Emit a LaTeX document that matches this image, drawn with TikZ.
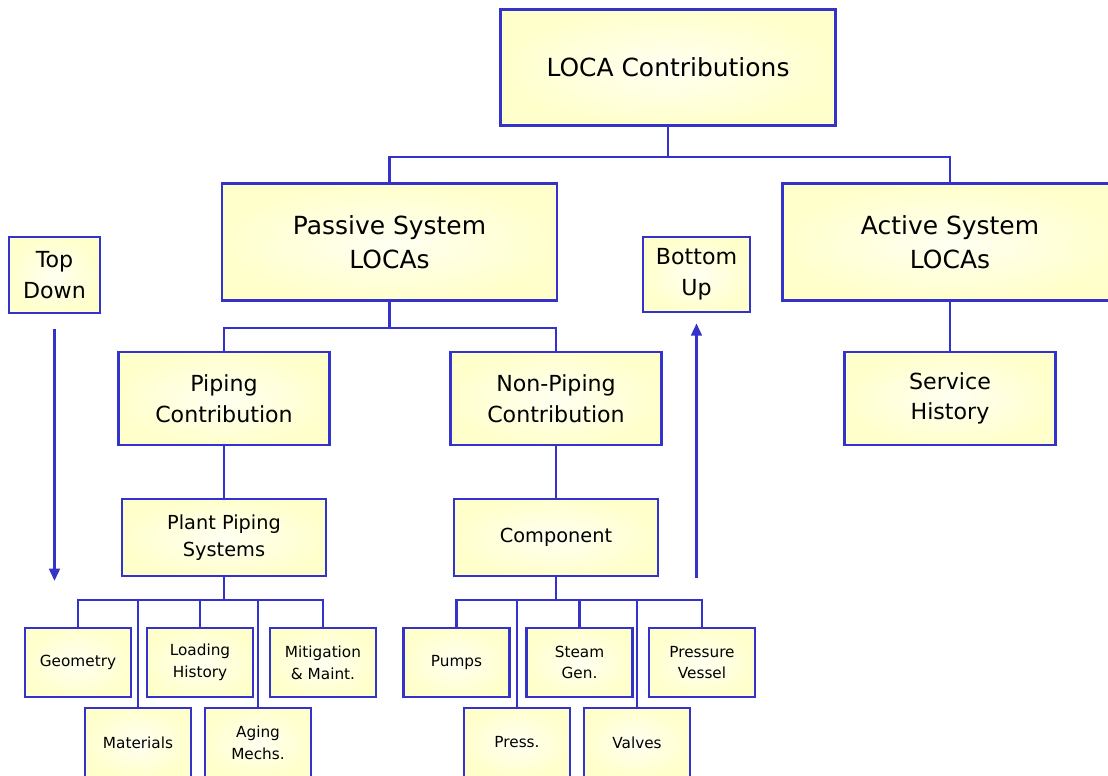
\documentclass[tikz,border=0pt]{standalone}
\usepackage{fontspec}
\setmainfont{DejaVu Sans}
\usepackage{xcolor}
\usetikzlibrary{arrows.meta}

\definecolor{locablue}{RGB}{51,51,204}
\definecolor{locayellow}{RGB}{255,255,204}

\tikzset{
  box/.style={draw=locablue, line width=1.5pt, rectangle, align=center,
    inner color=white!75!locayellow, outer color=locayellow},
  bigbox/.style={box, minimum width=6.7cm, minimum height=2.33cm,
    font=\fontsize{14.2}{19.5}\selectfont},
  midbox/.style={box, minimum width=4.22cm, minimum height=1.86cm,
    font=\fontsize{12.6}{17.5}\selectfont},
  plantbox/.style={box, minimum width=4.08cm, minimum height=1.54cm,
    font=\fontsize{11}{15.5}\selectfont},
  leafbox/.style={box, minimum width=2.12cm, minimum height=1.38cm,
    font=\fontsize{8.7}{12.4}\selectfont},
  link/.style={draw=locablue, line width=1.6pt},
}

\begin{document}
\begin{tikzpicture}[x=0.02cm, y=-0.02cm, >={Triangle[length=7pt,width=6pt]}]
			\useasboundingbox (0,0) rectangle (1108,776);
			% top levels
			\node[bigbox] (loca) at (668,67.5){LOCA Contributions};
			\node[bigbox] (passive) at (389.5,242){Passive System\\LOCAs};
			\node[bigbox] (active) at (950,242){Active System\\LOCAs};
			\node[midbox] (piping) at (224,398.5){Piping\\Contribution};
			\node[midbox] (nonpiping) at (556,398.5){Non-Piping\\Contribution};
			\node[midbox] (service) at (950,398.5){Service\\History};
			\node[plantbox] (plant) at (224,537.5){Plant Piping\\Systems};
			\node[plantbox] (component) at (556,537.5){Component};
			% direction labels
			\node[midbox, minimum width=1.82cm, minimum height=1.52cm] (topdown) at (54.5,275){Top\\Down};
			\node[midbox, minimum width=2.14cm, minimum height=1.5cm] (bottomup) at (696.5,274.5){Bottom\\Up};
			% leaves
			\node[leafbox] (geometry) at (78,662.5){Geometry};
			\node[leafbox] (materials) at (138,742.5){Materials};
			\node[leafbox] (loading) at (200,662.5){Loading\\History};
			\node[leafbox] (aging) at (258,742.5){Aging\\Mechs.};
			\node[leafbox] (mitigation) at (323,662.5){Mitigation\\\& Maint.};
			\node[leafbox] (pumps) at (456.5,662.5){Pumps};
			\node[leafbox] (press) at (517,742.5){Press.};
			\node[leafbox] (steam) at (579.5,662.5){Steam\\Gen.};
			\node[leafbox] (valves) at (637,742.5){Valves};
			\node[leafbox] (vessel) at (702,662.5){Pressure\\Vessel};
			% buses
			\coordinate (topbus) at (668,157);
			\coordinate (passbus) at (389.5,328);
			\coordinate (plantbus) at (224,600);
			\coordinate (compbus) at (556,600);
			\draw[link] (loca) -- (topbus);
			\draw[link] (passive.north) |- (topbus);
			\draw[link] (active.north) |- (topbus);
			\draw[link] (passive) -- (passbus);
			\draw[link] (piping.north) |- (passbus);
			\draw[link] (nonpiping.north) |- (passbus);
			\draw[link] (active) -- (service);
			\draw[link] (piping) -- (plant);
			\draw[link] (nonpiping) -- (component);
			\draw[link] (plant) -- (plantbus);
			\foreach \leaf in {geometry,materials,loading,aging,mitigation}
				\draw[link] (\leaf.north) |- (plantbus);
			\draw[link] (component) -- (compbus);
			\foreach \leaf in {pumps,press,steam,valves,vessel}
				\draw[link] (\leaf.north) |- (compbus);
			% arrows
			\coordinate (tdend) at (54.5,581);
			\coordinate (bustart) at (696.5,578);
			\draw[link, ->, shorten <=0.3cm] (topdown) -- (tdend);
			\draw[link, ->, shorten >=0.2cm] (bustart) -- (bottomup);
		\end{tikzpicture}
\end{document}
